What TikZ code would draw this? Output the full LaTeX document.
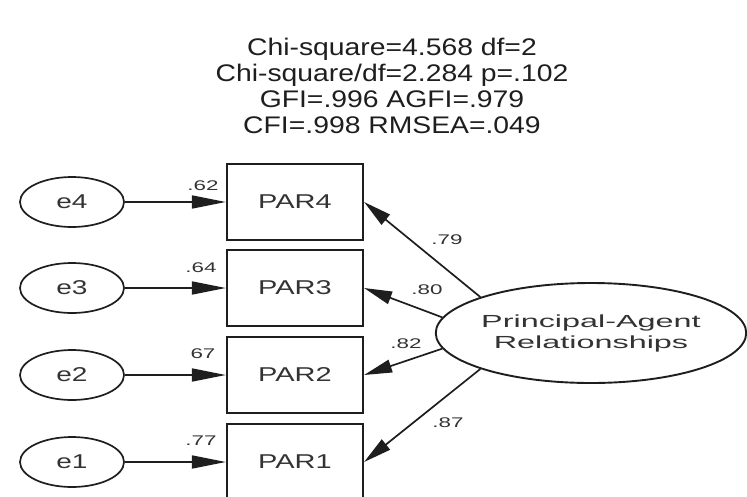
\documentclass[tikz,border=0pt]{standalone}
\usepackage{fontspec}
\setmainfont{Liberation Sans}
\newfontfamily\titlefont[FakeStretch=1.18]{Liberation Sans}
\newfontfamily\boxfont[FakeStretch=1.45]{Liberation Sans}
\newfontfamily\errfont[FakeStretch=1.4]{Liberation Sans}
\newfontfamily\latfont[FakeStretch=1.85]{Liberation Sans}
\newfontfamily\numfont[FakeStretch=1.6]{Liberation Sans}
\usetikzlibrary{arrows.meta,shapes.geometric}
\definecolor{ink}{HTML}{1E1E1E}
\definecolor{txt}{HTML}{333333}
\tikzset{
  errnode/.style={draw=ink,line width=1.7pt,ellipse,minimum width=104pt,minimum height=50pt,inner sep=0pt,font=\errfont\fontsize{20}{20}\selectfont,text=txt},
  obsbox/.style={draw=ink,line width=2.2pt,rectangle,minimum width=136pt,minimum height=76pt,inner sep=0pt,font=\boxfont\fontsize{20}{20}\selectfont,text=txt},
  latent/.style={draw=ink,line width=1.9pt,ellipse,minimum width=310pt,minimum height=100pt,inner sep=0pt,align=center,font=\latfont\fontsize{17.5}{21}\selectfont,text=txt},
  path/.style={draw=ink,line width=1.7pt,-{Triangle[length=34pt,width=13pt]}},
  lpath/.style={draw=ink,line width=1.7pt,-{Triangle[length=28pt,width=13pt]}},
  lbl/.style={font=\numfont\fontsize{14}{14}\selectfont,text=txt,inner sep=0pt},
  fit/.style={font=\titlefont\fontsize{24}{26}\selectfont,text=ink,align=center,inner sep=0pt}
}
\begin{document}
\begin{tikzpicture}[x=1pt,y=-1pt]
\useasboundingbox (0,0) rectangle (747,496);
\clip (0,0) rectangle (747,496);
\node[fit] (title) at (392,86) {Chi-square=4.568 df=2\\Chi-square/df=2.284 p=.102\\GFI=.996 AGFI=.979\\CFI=.998 RMSEA=.049};

\node[obsbox] (p4) at (295,202) {PAR4};
\node[obsbox] (p3) at (295,288) {PAR3};
\node[obsbox] (p2) at (295,375) {PAR2};
\node[obsbox] (p1) at (295,462) {PAR1};

\node[errnode] (e4) at (72,202) {e4};
\node[errnode] (e3) at (72,288) {e3};
\node[errnode] (e2) at (72,375) {e2};
\node[errnode] (e1) at (72,462) {e1};

\node[latent] (pa) at (591,333) {Principal-Agent\\Relationships};

\draw[path] (e4) -- (p4);
\draw[path] (e3) -- (p3);
\draw[path] (e2) -- (p2);
\draw[path] (e1) -- (p1);

\draw[lpath] (pa.162) -- (p4.east);
\draw[lpath] (pa.174) -- (p3.east);
\draw[lpath] (pa.186) -- (p2.east);
\draw[lpath] (pa.198) -- (p1.east);

\node[lbl] (r4) at (203,186) {.62};
\node[lbl] (r3) at (201,268) {.64};
\node[lbl] (r2) at (203,354) {67};
\node[lbl] (r1) at (201,441) {.77};

\node[lbl] (l4) at (447,240) {.79};
\node[lbl] (l3) at (427,290) {.80};
\node[lbl] (l2) at (406,344) {.82};
\node[lbl] (l1) at (448,423) {.87};
\end{tikzpicture}
\end{document}
